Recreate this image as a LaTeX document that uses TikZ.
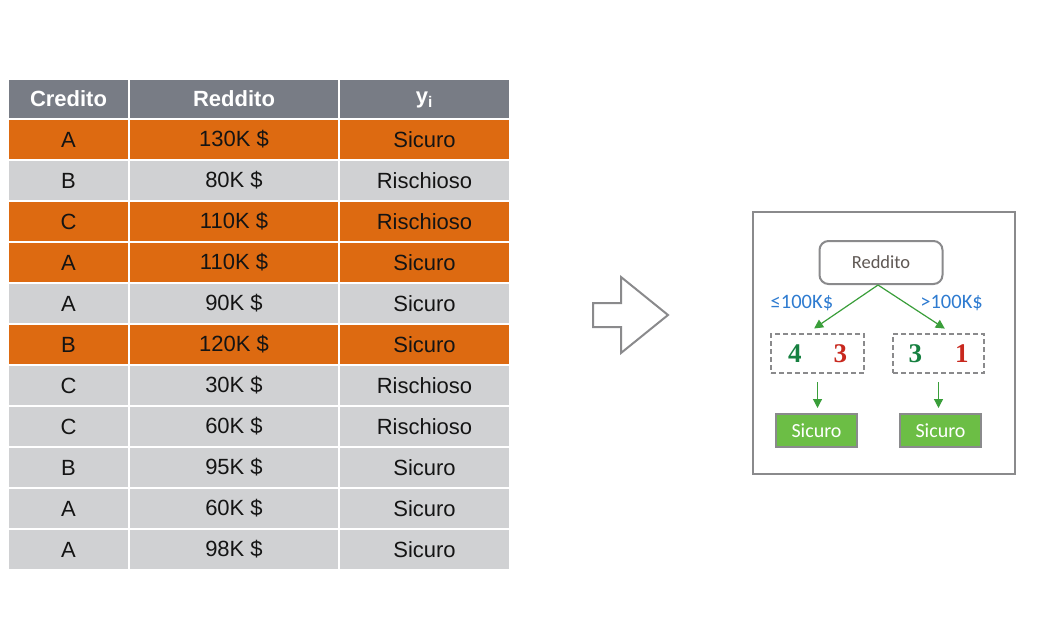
\documentclass[tikz,border=0pt]{standalone}
\usepackage{fontspec}
\usetikzlibrary{arrows.meta}
\setmainfont{Liberation Sans}
\newfontfamily\treefont{Carlito}
\newfontfamily\numfont{Liberation Serif}
\definecolor{headgray}{RGB}{120,124,133}
\definecolor{roworange}{RGB}{221,106,17}
\definecolor{rowgray}{RGB}{208,209,211}
\definecolor{celltext}{RGB}{20,20,20}
\definecolor{framegray}{RGB}{138,138,140}
\definecolor{leafgreen}{RGB}{108,190,69}
\definecolor{edgegreen}{RGB}{58,158,58}
\definecolor{labelblue}{RGB}{46,123,208}
\definecolor{numgreen}{RGB}{22,128,64}
\definecolor{numred}{RGB}{200,40,30}
\definecolor{rootgray}{RGB}{95,88,84}
\tikzset{
  cell/.style={draw=white, line width=1.5pt, inner sep=0pt, minimum height=41pt,
    text=celltext, font=\fontsize{22}{26}\selectfont},
  hdcell/.style={cell, fill=headgray, text=white, minimum height=40pt,
    font=\bfseries\fontsize{22}{26}\selectfont},
  orrow/.style={cell, fill=roworange},
  grrow/.style={cell, fill=rowgray},
  w1/.style={minimum width=121pt},
  w2/.style={minimum width=210pt},
  w3/.style={minimum width=171pt},
  root/.style={draw=framegray, line width=2pt, rounded corners=9pt, fill=white,
    minimum width=123pt, minimum height=43pt, text=rootgray,
    font=\treefont\fontsize{18.5}{22}\selectfont},
  counts/.style={draw=framegray, line width=2pt, dash pattern=on 5pt off 3pt,
    minimum height=39pt, inner sep=0pt,
    font=\numfont\bfseries\fontsize{27}{30}\selectfont},
  leaf/.style={draw=framegray, line width=2pt, fill=leafgreen, text=white,
    minimum width=81pt, minimum height=33pt, inner sep=0pt,
    font=\treefont\fontsize{20}{24}\selectfont},
  branch/.style={edgegreen, line width=1.2pt, -{Triangle[length=9pt,width=9pt]}},
  cond/.style={text=labelblue, inner sep=0pt, font=\treefont\fontsize{20.5}{24}\selectfont}
}
\begin{document}
\begin{tikzpicture}[x=1pt,y=-1pt]
  \useasboundingbox (0,0) rectangle (1043,632);
  % table
  \path
    (68.5,99) node[hdcell,w1] (h1) {Credito}
    (234,99) node[hdcell,w2] (h2) {Reddito}
    (424.5,99) node[hdcell,w3] (h3) {\raisebox{-4pt}[0pt][0pt]{y\textsubscript{i}}};
  \path
    (68.5,139.5) node[orrow,w1] (a1) {A}
    (234,139.5) node[orrow,w2] (b1) {130K \$}
    (424.5,139.5) node[orrow,w3] (c1) {Sicuro}
    (68.5,180.5) node[grrow,w1] (a2) {B}
    (234,180.5) node[grrow,w2] (b2) {80K \$}
    (424.5,180.5) node[grrow,w3] (c2) {Rischioso}
    (68.5,221.5) node[orrow,w1] (a3) {C}
    (234,221.5) node[orrow,w2] (b3) {110K \$}
    (424.5,221.5) node[orrow,w3] (c3) {Rischioso}
    (68.5,262.5) node[orrow,w1] (a4) {A}
    (234,262.5) node[orrow,w2] (b4) {110K \$}
    (424.5,262.5) node[orrow,w3] (c4) {Sicuro}
    (68.5,303.5) node[grrow,w1] (a5) {A}
    (234,303.5) node[grrow,w2] (b5) {90K \$}
    (424.5,303.5) node[grrow,w3] (c5) {Sicuro}
    (68.5,344.5) node[orrow,w1] (a6) {B}
    (234,344.5) node[orrow,w2] (b6) {120K \$}
    (424.5,344.5) node[orrow,w3] (c6) {Sicuro}
    (68.5,385.5) node[grrow,w1] (a7) {C}
    (234,385.5) node[grrow,w2] (b7) {30K \$}
    (424.5,385.5) node[grrow,w3] (c7) {Rischioso}
    (68.5,426.5) node[grrow,w1] (a8) {C}
    (234,426.5) node[grrow,w2] (b8) {60K \$}
    (424.5,426.5) node[grrow,w3] (c8) {Rischioso}
    (68.5,467.5) node[grrow,w1] (a9) {B}
    (234,467.5) node[grrow,w2] (b9) {95K \$}
    (424.5,467.5) node[grrow,w3] (c9) {Sicuro}
    (68.5,508.5) node[grrow,w1] (a10) {A}
    (234,508.5) node[grrow,w2] (b10) {60K \$}
    (424.5,508.5) node[grrow,w3] (c10) {Sicuro}
    (68.5,549.5) node[grrow,w1] (a11) {A}
    (234,549.5) node[grrow,w2] (b11) {98K \$}
    (424.5,549.5) node[grrow,w3] (c11) {Sicuro};
  % big arrow
  \draw[framegray, line width=2pt, line join=miter, fill=white]
    (593,303) -- (621,303) -- (621,277) -- (668,315) -- (621,353)
    -- (621,327) -- (593,327) -- cycle;
  % tree
  \draw[framegray, line width=2pt] (753,212) rectangle (1015,474);
  \node[root] (root) at (881,262.5) {Reddito};
  \node[counts, minimum width=93pt] (left) at (817.5,353.5)
    {\textcolor{numgreen}{4}\hspace{32pt}\textcolor{numred}{3}};
  \node[counts, minimum width=91pt] (right) at (938.5,353.5)
    {\textcolor{numgreen}{3}\hspace{33pt}\textcolor{numred}{1}};
  \node[leaf] (leafL) at (816.5,430.5) {Sicuro};
  \node[leaf] (leafR) at (940.5,430.5) {Sicuro};
  \draw[branch, shorten >=8pt] ([xshift=-3pt]root.south) --
    node[cond, left=9pt, yshift=6pt] {≤100K\$} ([xshift=-10pt]left.north);
  \draw[branch, shorten >=8pt] ([xshift=-3pt]root.south) --
    node[cond, right=5pt, yshift=6pt] {>100K\$} ([xshift=13pt]right.north);
  \draw[branch, shorten <=8pt, shorten >=5pt] (left.south) -- (leafL.north -| left.south);
  \draw[branch, shorten <=8pt, shorten >=5pt] (right.south) -- (leafR.north -| right.south);
\end{tikzpicture}
\end{document}
